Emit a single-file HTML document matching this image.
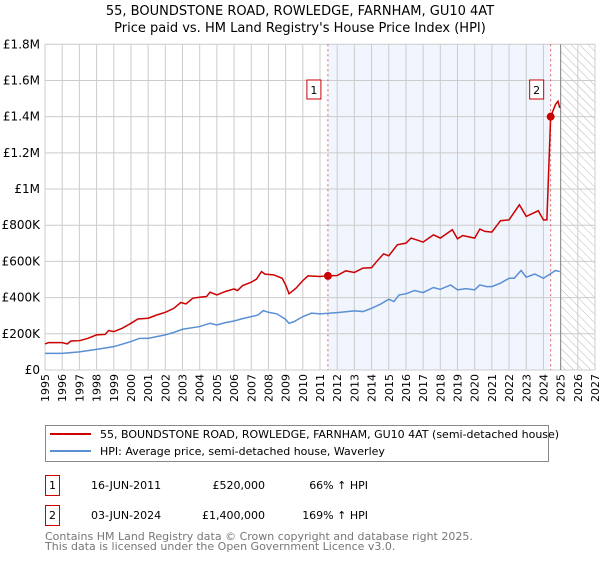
<!DOCTYPE html>
<html><head><meta charset="utf-8"><style>
body{margin:0;background:#fff;font-family:"Liberation Sans","DejaVu Sans",sans-serif}
</style></head><body>
<svg id="chart" width="600" height="560" xmlns="http://www.w3.org/2000/svg" font-family="DejaVu Sans, Liberation Sans, sans-serif">
<defs><pattern id="hatch" width="6" height="6" patternUnits="userSpaceOnUse" patternTransform="rotate(-45)"><line x1="0" y1="0" x2="0" y2="6" stroke="#bbb" stroke-width="1"/></pattern></defs>
<text x="300" y="15" text-anchor="middle" font-size="13" fill="#000">55, BOUNDSTONE ROAD, ROWLEDGE, FARNHAM, GU10 4AT</text>
<text x="300" y="32" text-anchor="middle" font-size="13" fill="#000">Price paid vs. HM Land Registry's House Price Index (HPI)</text>
<g id="plot"></g>
<g>
<rect x="45.5" y="425.5" width="503" height="36" fill="#fff" stroke="#888"/>
<line x1="50" y1="434" x2="91" y2="434" stroke="#cc0000" stroke-width="2"/>
<text x="100" y="438" font-size="11">55, BOUNDSTONE ROAD, ROWLEDGE, FARNHAM, GU10 4AT (semi-detached house)</text>
<line x1="50" y1="451" x2="91" y2="451" stroke="#5b8fd4" stroke-width="2"/>
<text x="100" y="455" font-size="11">HPI: Average price, semi-detached house, Waverley</text>
</g>
<g font-size="11">
<rect x="45.5" y="475.5" width="14" height="20" fill="#fff" stroke="#cc0000"/><text x="52.5" y="489" text-anchor="middle">1</text>
<text x="91" y="489">16-JUN-2011</text><text x="265" y="489" text-anchor="end">£520,000</text><text x="368" y="489" text-anchor="end">66% ↑ HPI</text>
<rect x="45.5" y="505.5" width="14" height="20" fill="#fff" stroke="#cc0000"/><text x="52.5" y="519" text-anchor="middle">2</text>
<text x="91" y="519">03-JUN-2024</text><text x="265" y="519" text-anchor="end">£1,400,000</text><text x="368" y="519" text-anchor="end">169% ↑ HPI</text>
</g>
<text x="45" y="540" font-size="11" fill="#777">Contains HM Land Registry data © Crown copyright and database right 2025.</text>
<text x="45" y="550" font-size="11" fill="#777">This data is licensed under the Open Government Licence v3.0.</text>
</svg>
<script>
const yTicks=[0,200000,400000,600000,800000,1000000,1200000,1400000,1600000,1800000];
const yTickLabels=["£0","£200K","£400K","£600K","£800K","£1M","£1.2M","£1.4M","£1.6M","£1.8M"];
const xYears=[1995,1996,1997,1998,1999,2000,2001,2002,2003,2004,2005,2006,2007,2008,2009,2010,2011,2012,2013,2014,2015,2016,2017,2018,2019,2020,2021,2022,2023,2024,2025,2026,2027];
const hpiT=[1995,1996,1997,1998,1999,2000,2000.5,2001,2002,2002.5,2003,2004,2004.6,2005,2005.5,2006,2006.5,2007,2007.4,2007.7,2008,2008.5,2009,2009.2,2009.5,2010,2010.5,2011,2012,2013,2013.5,2014,2014.5,2015,2015.3,2015.6,2016,2016.5,2017,2017.6,2018,2018.6,2019,2019.5,2020,2020.3,2020.7,2021,2021.5,2022,2022.3,2022.7,2023,2023.5,2024,2024.4,2024.7,2024.95];
const hpiV=[92,92,100,114,129,157,175,175,194,208,225,240,258,249,262,271,284,295,304,328,319,310,280,258,268,295,314,310,317,327,323,341,363,391,378,415,421,439,428,456,446,470,443,450,443,470,461,461,480,507,507,550,513,530,507,531,550,544];
const priceT=[1995,1995.2,1996,1996.3,1996.5,1997,1997.5,1998,1998.5,1998.7,1999,1999.5,2000,2000.4,2001,2001.5,2002,2002.5,2002.9,2003.2,2003.6,2004,2004.4,2004.6,2005,2005.5,2006,2006.2,2006.5,2007,2007.3,2007.6,2007.8,2008.3,2008.8,2009,2009.2,2009.6,2010,2010.3,2011,2011.46,2012,2012.5,2013,2013.5,2014,2014.3,2014.7,2015,2015.5,2016,2016.3,2017,2017.6,2018,2018.7,2019,2019.3,2020,2020.3,2020.6,2021,2021.5,2022,2022.6,2023,2023.7,2024,2024.2,2024.42,2024.7,2024.85,2024.95];
const priceV=[144,151,151,144,160,162,175,194,197,218,212,231,258,282,286,304,319,341,373,365,397,402,406,430,415,434,448,439,467,485,502,544,530,526,507,470,421,452,494,520,517,520,522,548,539,563,565,600,642,631,692,701,729,707,747,729,775,725,743,729,779,766,762,825,830,913,849,880,830,830,1400,1467,1485,1448];
const saleT=[2011.46,2024.42];
const saleV=[520,1400];
const saleLabels=["1","2"];

const NS="http://www.w3.org/2000/svg";
const X0=45,X1=595,Y0=370,Y1=44.3;
const xs=t=>X0+(t-1995)*(X1-X0)/32;
const ys=v=>Y0-v*(Y0-Y1)/1800000;
const g=document.getElementById('plot');
function mk(tag,attrs,parent){const e=document.createElementNS(NS,tag);for(const k in attrs)e.setAttribute(k,attrs[k]);(parent||g).appendChild(e);return e;}
let r=mk('rect',{x:xs(saleT[0]),y:Y1,width:xs(saleT[1])-xs(saleT[0]),height:Y0-Y1,fill:'#eef3fd',opacity:0.8});


r=mk('rect',{x:xs(2025),y:Y1,width:X1-xs(2025),height:Y0-Y1,fill:'url(#hatch)'});


xYears.forEach(yr=>{const x=xs(yr);
 let l=mk('line',{x1:x,y1:Y1,x2:x,y2:Y0,stroke:'#ccc','stroke-width':1});
 
 
 let t=mk('text',{x:0,y:0,'font-size':11,'text-anchor':'end',transform:`translate(${x+4},${Y0+4}) rotate(-90)`});
 t.textContent=yr;
 
 
});
yTicks.forEach((v,i)=>{const y=ys(v);
 let l=mk('line',{x1:X0,y1:y,x2:X1,y2:y,stroke:'#ccc','stroke-width':1});
 
 
 let t=mk('text',{x:X0-5,y:y+4,'font-size':12,'text-anchor':'end'});
 t.textContent=yTickLabels[i];
 
 
});
let vl=mk('line',{x1:xs(2025),y1:Y1,x2:xs(2025),y2:Y0,stroke:'#888','stroke-width':1});


saleT.forEach(t=>{let l=mk('line',{x1:xs(t),y1:Y1,x2:xs(t),y2:Y0,stroke:'#e06060','stroke-width':1,'stroke-dasharray':'2,3'});
 
 });
let p=mk('polyline',{points:hpiT.map((t,i)=>xs(t)+','+ys(hpiV[i]*1000)).join(' '),fill:'none',stroke:'#5b8fd4','stroke-width':1.5});


p=mk('polyline',{points:priceT.map((t,i)=>xs(t)+','+ys(priceV[i]*1000)).join(' '),fill:'none',stroke:'#cc0000','stroke-width':1.5});


saleT.forEach((t,i)=>{
 let c=mk('circle',{cx:xs(t),cy:ys(saleV[i]*1000),r:4,fill:'#cc0000'});
 
 
 const bx=xs(t)-14;
 let b=mk('rect',{x:bx-7,y:80,width:14,height:19,fill:'#fff',stroke:'#cc0000'});
 
 
 let tx=mk('text',{x:bx,y:94,'font-size':11,'text-anchor':'middle'});
 tx.textContent=saleLabels[i];
 
 
});
</script>
</body></html>
